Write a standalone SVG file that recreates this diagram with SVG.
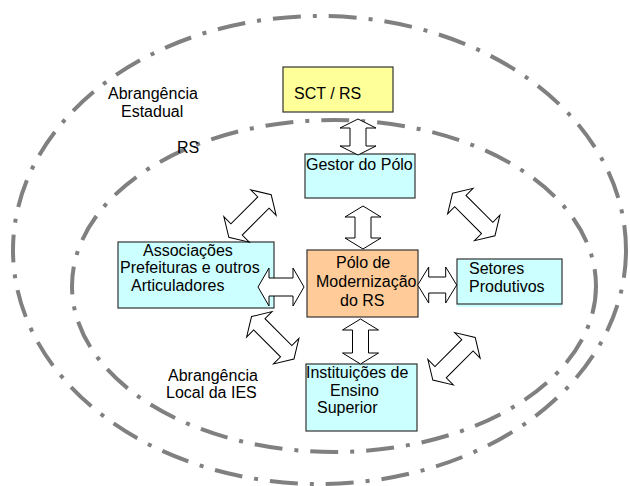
<svg xmlns="http://www.w3.org/2000/svg" width="630" height="486" viewBox="0 0 630 486">
<style>
.ring{fill:none;stroke:#808080;stroke-width:4;stroke-dasharray:28 12 4 12}
.box{stroke:#333;stroke-width:1.2}
.cyan{fill:#CCFFFF}
.t{font-family:"Liberation Sans",Arial,sans-serif;font-size:16px;fill:#000}
.arr{fill:#fff;stroke:#000;stroke-width:1;stroke-linejoin:miter}
</style>
<rect width="630" height="486" fill="#fff"/>
<g id="rings">
<ellipse class="ring" cx="319.5" cy="250" rx="306.5" ry="234"/>
<ellipse class="ring" cx="334" cy="286" rx="262" ry="166"/>
</g>
<g id="labels">
<text class="t" x="108" y="99">Abrangência</text>
<text class="t" x="121" y="117">Estadual</text>
<text class="t" x="177" y="153">RS</text>
<text class="t" x="168" y="381">Abrangência</text>
<text class="t" x="166" y="398">Local da IES</text>
</g>
<g id="sct">
<rect class="box" x="283" y="67" width="110" height="45" fill="#FFFF99"/>
<text class="t" x="294" y="99">SCT /  RS</text>
</g>
<g id="gestor">
<rect class="box cyan" x="305" y="154" width="110" height="44"/>
<text class="t" x="306" y="170">Gestor do Pólo</text>
</g>
<g id="associacoes">
<rect class="box cyan" x="118" y="242" width="156" height="66"/>
<text class="t" x="143" y="256">Associações</text>
<text class="t" x="120" y="273">Prefeituras e outros</text>
<text class="t" x="131" y="291">Articuladores</text>
</g>
<g id="polo">
<rect class="box" x="307" y="250" width="111" height="67" fill="#FFCC99"/>
<text class="t" x="336" y="268">Pólo de</text>
<text class="t" x="316" y="287">Modernização</text>
<text class="t" x="340" y="306">do RS</text>
</g>
<g id="setores">
<rect x="457" y="259" width="105" height="48" fill="#CCFFFF"/>
<rect class="box cyan" x="457" y="259" width="105" height="45"/>
<text class="t" x="469" y="274">Setores</text>
<text class="t" x="469" y="292">Produtivos</text>
</g>
<g id="instituicoes">
<rect class="box cyan" x="306" y="364" width="111" height="67"/>
<text class="t" x="306" y="378">Instituições de</text>
<text class="t" x="330" y="396">Ensino</text>
<text class="t" x="317" y="413">Superior</text>
</g>
<g id="connectors">
<polygon class="arr" transform="translate(358,137) rotate(90)" points="-18,0 -9,-18 -9,-8 9,-8 9,-18 18,0 9,18 9,8 -9,8 -9,18"/>
<polygon class="arr" transform="translate(363,227.5) rotate(90)" points="-21.5,0 -10.5,-18 -10.5,-8 10.5,-8 10.5,-18 21.5,0 10.5,18 10.5,8 -10.5,8 -10.5,18"/>
<polygon class="arr" transform="translate(360.5,341.5) rotate(90)" points="-22.5,0 -11.5,-18 -11.5,-8 11.5,-8 11.5,-18 22.5,0 11.5,18 11.5,8 -11.5,8 -11.5,18"/>
<polygon class="arr" transform="translate(281,287)" points="-23,0 -12,-19 -12,-9 12,-9 12,-19 23,0 12,19 12,9 -12,9 -12,19"/>
<polygon class="arr" transform="translate(437.2,285)" points="-19.5,0 -8.5,-18 -8.5,-8 8.5,-8 8.5,-18 19.5,0 8.5,18 8.5,8 -8.5,8 -8.5,18"/>
<polygon class="arr" transform="translate(250,216) rotate(-45)" points="-30,0 -19,-18 -19,-8 19,-8 19,-18 30,0 19,18 19,8 -19,8 -19,18"/>
<polygon class="arr" transform="translate(473.75,214.5) rotate(45)" points="-30,0 -19,-18 -19,-8 19,-8 19,-18 30,0 19,18 19,8 -19,8 -19,18"/>
<polygon class="arr" transform="translate(272.75,337.75) rotate(45)" points="-30,0 -19,-18 -19,-8 19,-8 19,-18 30,0 19,18 19,8 -19,8 -19,18"/>
<polygon class="arr" transform="translate(454,358.75) rotate(-45)" points="-30,0 -19,-18 -19,-8 19,-8 19,-18 30,0 19,18 19,8 -19,8 -19,18"/>
</g>
</svg>
